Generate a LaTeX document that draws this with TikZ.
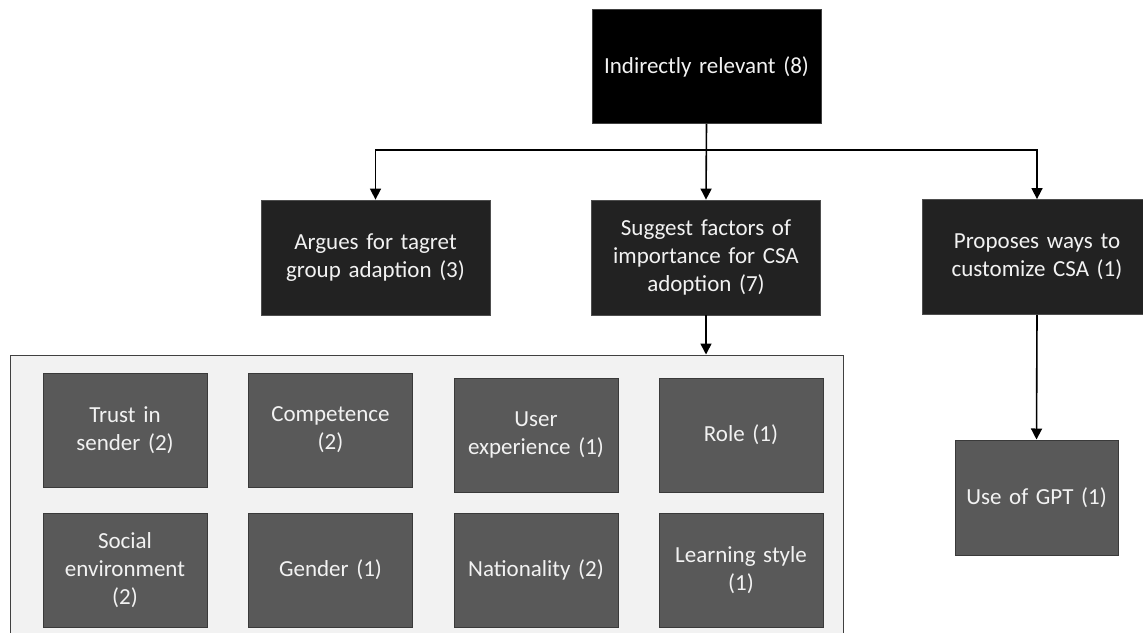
\documentclass[tikz,border=0pt]{standalone}
\usepackage{fontspec}
\setmainfont{Carlito}
\usetikzlibrary{arrows.meta}
\definecolor{topfill}{HTML}{000000}
\definecolor{midfill}{HTML}{222222}
\definecolor{leaffill}{HTML}{595959}
\definecolor{leafline}{HTML}{3A3A3A}
\definecolor{groupfill}{HTML}{F2F2F2}
\definecolor{groupline}{HTML}{404040}
\definecolor{txt}{HTML}{F2F2F2}
\tikzset{
  base/.style={rectangle, align=center, text=txt, font=\fontsize{23}{28}\selectfont, inner sep=0pt},
  topbox/.style={base, fill=topfill, draw=groupline, line width=0.8pt, minimum width=229, minimum height=114, text width=220},
  midbox/.style={base, fill=midfill, draw=midfill!80, line width=0.8pt, minimum width=229, minimum height=115, text width=220},
  leaf/.style={base, fill=leaffill, draw=leafline, line width=1pt, minimum width=164, minimum height=114, text width=160},
  conn/.style={line width=1.6pt, draw=black, -{Triangle[width=11pt,length=11pt]}}
}
\begin{document}
\begin{tikzpicture}[x=1pt,y=-1pt]
\useasboundingbox (0,0) rectangle (1143,632);
\node[topbox] (top) at (706.5,66.5) {Indirectly relevant (8)};
\node[midbox] (left) at (375.5,257.5) {Argues for tagret\\group adaption (3)};
\node[midbox] (mid) at (706,257.5) {Suggest factors of\\importance for CSA\\adoption (7)};
\node[midbox] (right) at (1037,257) {Proposes ways to\\customize CSA (1)};
\node[rectangle, fill=groupfill, draw=groupline, line width=1pt, minimum width=833, minimum height=290, inner sep=0pt] (group) at (426.5,500) {};
\node[leaf] (trust) at (125,430) {Trust in\\sender (2)};
\node[leaf] (comp) at (330.5,430) {Competence\\(2)};
\node[leaf] (user) at (536,435) {User\\experience (1)};
\node[leaf] (role) at (741,435) {Role (1)};
\node[leaf] (social) at (125,570) {Social\\environment\\(2)};
\node[leaf] (gender) at (330.5,570) {Gender (1)};
\node[leaf] (nation) at (536,570) {Nationality (2)};
\node[leaf] (learn) at (741,570) {Learning style\\(1)};
\node[leaf, minimum width=163, minimum height=115] (gpt) at (1036.5,497.5) {Use of GPT (1)};
\coordinate (split) at (706.5,150);
\draw[conn] (top.south) -- (mid.north);
\draw[conn] (split) -| (left.north);
\draw[conn] (split) -| (right.north);
\draw[conn] (mid.south) -- (mid.south |- group.north);
\draw[conn] (right.south) -- (gpt.north);
\end{tikzpicture}
\end{document}
